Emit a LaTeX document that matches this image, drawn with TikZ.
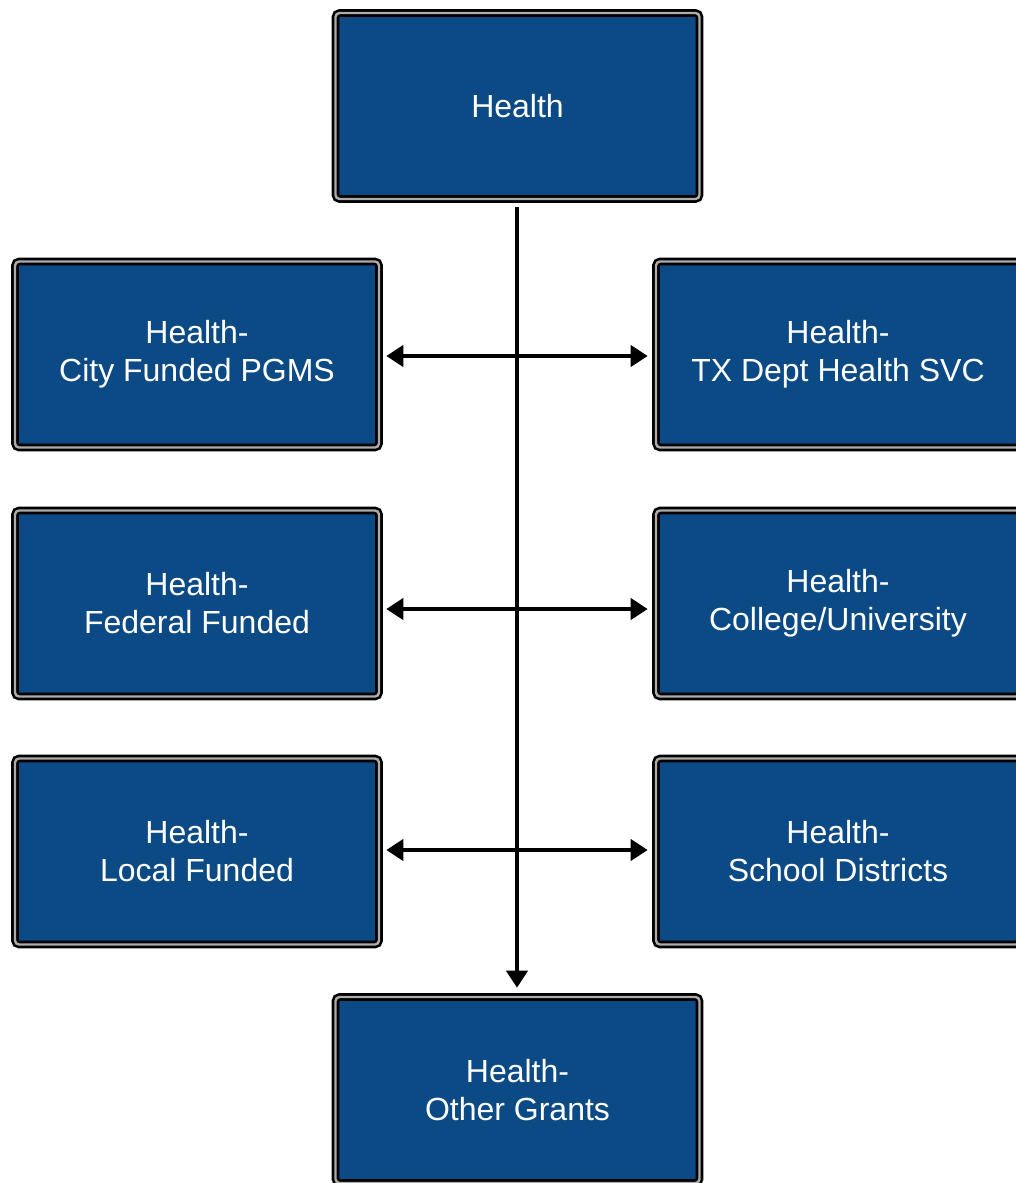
\documentclass[tikz,border=0pt]{standalone}
\usepackage{fontspec}
\setmainfont{Liberation Sans}
\usetikzlibrary{arrows.meta}
\definecolor{healthblue}{RGB}{12,74,133}
\begin{document}
\begin{tikzpicture}[x=1pt,y=-1pt,
  box/.style={draw=black,line width=2.6pt,double=gray!65,double distance=2.4pt,
    fill=healthblue,rounded corners=4pt,minimum width=364pt,minimum height=186pt,
    inner sep=0pt,text=white,align=center,
    font=\fontsize{32}{38}\selectfont},
  link/.style={line width=4pt,-{Triangle[width=21pt,length=17pt]}},
  both/.style={link,{Triangle[width=21pt,length=17pt]}-{Triangle[width=21pt,length=17pt]},
    shorten <=6pt,shorten >=7pt}]
  \useasboundingbox (0,0) rectangle (1016,1183);
  \node[box] (health) at (517.5,106) {Health};
  \node[box] (city) at (197,354.5) {Health-\\City Funded PGMS};
  \node[box] (tx) at (838,354.5) {Health-\\TX Dept Health SVC};
  \node[box] (federal) at (197,603.5) {Health-\\Federal Funded};
  \node[box] (college) at (838,603.5) {Health-\\College/University};
  \node[box] (local) at (197,851.5) {Health-\\Local Funded};
  \node[box] (school) at (838,851.5) {Health-\\School Districts};
  \node[box] (other) at (517.5,1090) {Health-\\Other Grants};
  % trunk
  \draw[link,shorten <=7pt,shorten >=8pt] (health.south -| 517,0) -- (other.north -| 517,0);
  % branches
  \draw[both] (city.east |- 0,356) -- (tx.west |- 0,356);
  \draw[both] (federal.east |- 0,609) -- (college.west |- 0,609);
  \draw[both] (local.east |- 0,850) -- (school.west |- 0,850);
\end{tikzpicture}
\end{document}
